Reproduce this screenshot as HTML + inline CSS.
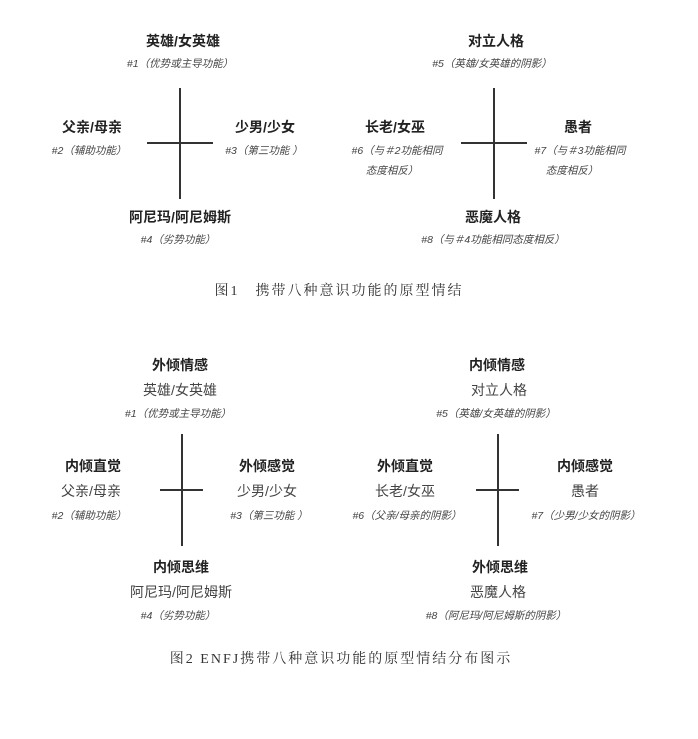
<!DOCTYPE html>
<html><head><meta charset="utf-8"><style>
body{margin:0;width:698px;height:739px;background:#fff;position:relative;overflow:hidden;font-family:"Liberation Sans","Noto Sans CJK SC",sans-serif;color:#222}
.t{position:absolute;transform:translate(-50%,-50%);white-space:nowrap;line-height:1}
.b{font-weight:bold;font-size:14px;color:#222}
.r{font-size:14px;color:#444}
.s{font-style:italic;font-size:10.5px;color:#444}
.c{font-family:"Liberation Serif","Noto Serif CJK SC",serif;font-size:14px;letter-spacing:2px;color:#333}
.l{position:absolute;background:#333}
</style></head><body>
<!-- Fig 1 -->
<div class="l" style="left:179px;top:88px;width:2px;height:111px"></div>
<div class="l" style="left:147px;top:142px;width:66px;height:2px"></div>
<div class="l" style="left:493px;top:88px;width:2px;height:111px"></div>
<div class="l" style="left:461px;top:142px;width:66px;height:2px"></div>

<div class="t b" style="left:183px;top:41px">英雄/女英雄</div>
<div class="t s" style="left:180px;top:64px">#1（优势或主导功能）</div>
<div class="t b" style="left:92px;top:127px">父亲/母亲</div>
<div class="t s" style="left:89px;top:151px">#2（辅助功能）</div>
<div class="t b" style="left:265px;top:127px">少男/少女</div>
<div class="t s" style="left:264px;top:151px">#3（第三功能 ）</div>
<div class="t b" style="left:180px;top:217px">阿尼玛/阿尼姆斯</div>
<div class="t s" style="left:178px;top:240px">#4（劣势功能）</div>

<div class="t b" style="left:496px;top:41px">对立人格</div>
<div class="t s" style="left:492px;top:64px">#5（英雄/女英雄的阴影）</div>
<div class="t b" style="left:395px;top:127px">长老/女巫</div>
<div class="t s" style="left:397px;top:151px">#6（与＃2功能相同</div>
<div class="t s" style="left:392px;top:171px">态度相反）</div>
<div class="t b" style="left:578px;top:127px">愚者</div>
<div class="t s" style="left:580px;top:151px">#7（与＃3功能相同</div>
<div class="t s" style="left:572px;top:171px">态度相反）</div>
<div class="t b" style="left:493px;top:217px">恶魔人格</div>
<div class="t s" style="left:493px;top:240px">#8（与＃4功能相同态度相反）</div>

<div class="t c" style="left:339px;top:292px">图1　携带八种意识功能的原型情结</div>

<!-- Fig 2 -->
<div class="l" style="left:181px;top:434px;width:2px;height:112px"></div>
<div class="l" style="left:160px;top:489px;width:43px;height:2px"></div>
<div class="l" style="left:497px;top:434px;width:2px;height:112px"></div>
<div class="l" style="left:476px;top:489px;width:43px;height:2px"></div>

<div class="t b" style="left:180px;top:365px">外倾情感</div>
<div class="t r" style="left:180px;top:390px">英雄/女英雄</div>
<div class="t s" style="left:178px;top:414px">#1（优势或主导功能）</div>
<div class="t b" style="left:93px;top:466px">内倾直觉</div>
<div class="t r" style="left:91px;top:491px">父亲/母亲</div>
<div class="t s" style="left:89px;top:516px">#2（辅助功能）</div>
<div class="t b" style="left:267px;top:466px">外倾感觉</div>
<div class="t r" style="left:267px;top:491px">少男/少女</div>
<div class="t s" style="left:269px;top:516px">#3（第三功能 ）</div>
<div class="t b" style="left:181px;top:567px">内倾思维</div>
<div class="t r" style="left:181px;top:592px">阿尼玛/阿尼姆斯</div>
<div class="t s" style="left:178px;top:616px">#4（劣势功能）</div>

<div class="t b" style="left:497px;top:365px">内倾情感</div>
<div class="t r" style="left:499px;top:390px">对立人格</div>
<div class="t s" style="left:496px;top:414px">#5（英雄/女英雄的阴影）</div>
<div class="t b" style="left:405px;top:466px">外倾直觉</div>
<div class="t r" style="left:405px;top:491px">长老/女巫</div>
<div class="t s" style="left:407px;top:516px">#6（父亲/母亲的阴影）</div>
<div class="t b" style="left:585px;top:466px">内倾感觉</div>
<div class="t r" style="left:585px;top:491px">愚者</div>
<div class="t s" style="left:586px;top:516px">#7（少男/少女的阴影）</div>
<div class="t b" style="left:500px;top:567px">外倾思维</div>
<div class="t r" style="left:498px;top:592px">恶魔人格</div>
<div class="t s" style="left:496px;top:616px">#8（阿尼玛/阿尼姆斯的阴影）</div>

<div class="t c" style="left:341px;top:660px">图2 ENFJ携带八种意识功能的原型情结分布图示</div>
</body></html>
